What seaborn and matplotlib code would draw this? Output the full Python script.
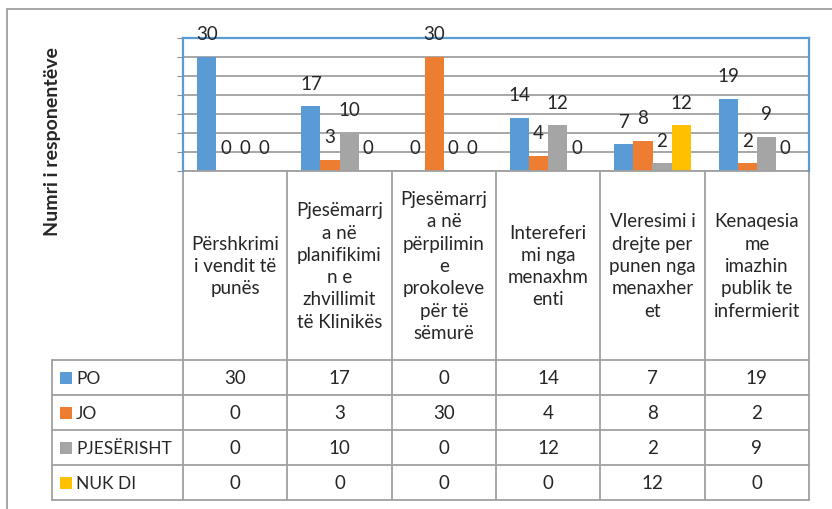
import matplotlib
matplotlib.use("Agg")
import matplotlib.pyplot as plt
import seaborn as sns
import pandas as pd
from matplotlib.lines import Line2D
from matplotlib.patches import Rectangle

categories = [
    "Përshkrimi\ni vendit të\npunës",
    "Pjesëmarrj\na në\nplanifikimi\nn e\nzhvillimit\ntë Klinikës",
    "Pjesëmarrj\na në\npërpilimin\ne\nprokoleve\npër të\nsëmurë",
    "Intereferi\nmi nga\nmenaxhm\nenti",
    "Vleresimi i\ndrejte per\npunen nga\nmenaxher\net",
    "Kenaqesia\nme\nimazhin\npublik te\ninfermierit",
]
series = ["PO", "JO", "PJESËRISHT", "NUK DI"]
po = [30, 17, 0, 14, 7, 19]
jo = [0, 3, 30, 4, 8, 2]
pjeserisht = [0, 10, 0, 12, 2, 9]
nuk_di = [0, 0, 0, 0, 12, 0]
colors = ["#5B9BD5", "#ED7D31", "#A5A5A5", "#FFC000"]

values = [po, jo, pjeserisht, nuk_di]
rows = []
for s, vals in zip(series, values):
    for i, v in enumerate(vals):
        rows.append({"cat": i, "series": s, "value": v})
df = pd.DataFrame(rows)

sns.set_style("white")
plt.rcParams["font.family"] = ["Lato", "DejaVu Sans"]
FS = 13.5

W, H = 832, 510
fig = plt.figure(figsize=(W / 100, H / 100), dpi=100)
# plot area in pixels: x 183..809, y 39..172
ax = fig.add_axes([183 / W, 1 - 172 / H, (809 - 183) / W, (172 - 39) / H])

sns.barplot(data=df, x="cat", y="value", hue="series", hue_order=series,
            palette=colors, width=0.73, linewidth=0, saturation=1,
            legend=False, ax=ax)

ax.set_xlim(-0.5, len(categories) - 0.5)
ax.set_ylim(0, 35)
ax.set_yticks(range(0, 36, 5))
ax.set_yticklabels([])
ax.set_xticks([])
ax.set_xlabel("")
ax.set_ylabel("")
ax.yaxis.grid(True, color="#8f8f8f", linewidth=1.1)
ax.set_axisbelow(True)
ax.tick_params(axis="y", length=4, color="#8f8f8f", left=True)
for side in ["left", "top", "right"]:
    ax.spines[side].set_color("#5B9BD5")
    ax.spines[side].set_linewidth(1.6)
ax.spines["bottom"].set_visible(False)

# data labels
for cont in ax.containers:
    for bar in cont:
        h = bar.get_height()
        ax.annotate(f"{int(h)}", (bar.get_x() + bar.get_width() / 2, h),
                    xytext=(0, 23), textcoords="offset pixels",
                    ha="center", va="center", fontsize=FS,
                    annotation_clip=False)

# ---- data table below the plot ----
tr = ax.get_xaxis_transform()
px_per_unit = (809 - 183) / len(categories)


def xd(px):
    return -0.5 + (px - 183) / px_per_unit


def ya(py):
    return (172 - py) / (172 - 39)


grey = "#a0a0a0"
y_head_top, y_head_bot = 172, 361
row_lines = [361, 396, 431, 466, 501]
x_leg = 52


def hline(x0, x1, py):
    ax.add_line(Line2D([xd(x0), xd(x1)], [ya(py), ya(py)], transform=tr,
                       color=grey, lw=1.3, clip_on=False))


def vline(px, y0, y1):
    ax.add_line(Line2D([xd(px), xd(px)], [ya(y0), ya(y1)], transform=tr,
                       color=grey, lw=1.3, clip_on=False))


hline(183, 809, y_head_top)
for py in row_lines:
    hline(x_leg, 809, py)
for i in range(len(categories) + 1):
    vline(183 + i * px_per_unit, y_head_top, row_lines[-1])
vline(x_leg, row_lines[0], row_lines[-1])

# header cells
for i, name in enumerate(categories):
    ax.text(i, ya((y_head_top + y_head_bot) / 2), name, transform=tr,
            ha="center", va="center", fontsize=FS, linespacing=1.38,
            clip_on=False)

# value rows with legend keys
for r, (s, vals, c) in enumerate(zip(series, values, colors)):
    yc = (row_lines[r] + row_lines[r + 1]) / 2
    ax.add_patch(Rectangle((xd(60), ya(yc + 6)), xd(72) - xd(60),
                           ya(yc - 6) - ya(yc + 6), transform=tr,
                           facecolor=c, edgecolor="none", clip_on=False))
    ax.text(xd(76), ya(yc), s, transform=tr, ha="left", va="center",
            fontsize=12.5, clip_on=False)
    for i, v in enumerate(vals):
        ax.text(i, ya(yc), str(v), transform=tr, ha="center", va="center",
                fontsize=FS, clip_on=False)

# axis title
fig.text(53 / W, 1 - 142 / H, "Numri i responentëve", rotation=90,
         ha="center", va="center", fontsize=14, fontweight="bold")

# outer chart border
fig.add_artist(Line2D([7 / W, 7 / W], [0, 1 - 10 / H], color="#a6a6a6", lw=1.4))
fig.add_artist(Line2D([7 / W, 1], [1 - 10 / H, 1 - 10 / H], color="#a6a6a6", lw=1.4))

fig.savefig("out.png", dpi=100)
